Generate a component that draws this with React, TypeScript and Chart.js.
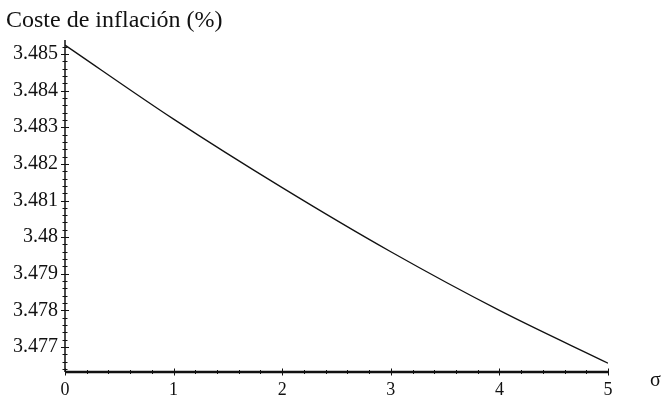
import React, { useEffect, useRef } from "react";
import { Chart, registerables } from "chart.js";

Chart.register(...registerables);

const sigmaValues = [0, 1, 2, 3, 4, 5];
const costValues = [3.48524, 3.48322, 3.48135, 3.4796, 3.478, 3.47656];
const yMajorStep = 0.001;
const yMinorStep = 0.0002;
const xMajorStep = 1;
const xMinorStep = 0.2;
const titleText = "Coste de inflación (%)";
const xAxisLabel = "σ";

const FONT = "'Liberation Serif', 'Times New Roman', serif";

const axisDecor = {
  id: "axisDecor",
  afterDraw(chart: any) {
    const ctx = chart.ctx;
    const xs = chart.scales.x;
    const ys = chart.scales.y;
    const area = chart.chartArea;
    ctx.save();
    ctx.strokeStyle = "#111";
    ctx.lineWidth = 1.5;
    ctx.beginPath();
    ctx.moveTo(area.left, area.top);
    ctx.lineTo(area.left, area.bottom);
    ctx.stroke();
    ctx.lineWidth = 2.5;
    ctx.beginPath();
    ctx.moveTo(area.left, area.bottom);
    ctx.lineTo(area.right, area.bottom);
    ctx.stroke();
    ctx.lineWidth = 1;
    const yStart = Math.ceil(ys.min / yMinorStep - 1e-6);
    const yEnd = Math.floor(ys.max / yMinorStep + 1e-6);
    for (let i = yStart; i <= yEnd; i++) {
      const v = i * yMinorStep;
      const py = Math.round(ys.getPixelForValue(v)) + 0.5;
      const major = Math.abs(v / yMajorStep - Math.round(v / yMajorStep)) < 1e-6;
      const len = major ? 4 : 2.5;
      ctx.beginPath();
      ctx.moveTo(area.left - len, py);
      ctx.lineTo(area.left + len, py);
      ctx.stroke();
    }
    const xStart = Math.ceil(xs.min / xMinorStep - 1e-6);
    const xEnd = Math.floor(xs.max / xMinorStep + 1e-6);
    for (let i = xStart; i <= xEnd; i++) {
      const v = i * xMinorStep;
      const px = Math.round(xs.getPixelForValue(v)) + 0.5;
      const major = Math.abs(v / xMajorStep - Math.round(v / xMajorStep)) < 1e-6;
      const len = major ? 3.5 : 2;
      ctx.beginPath();
      ctx.moveTo(px, area.bottom - len);
      ctx.lineTo(px, area.bottom + len);
      ctx.stroke();
    }
    ctx.fillStyle = "#111";
    ctx.textBaseline = "alphabetic";
    ctx.textAlign = "left";
    ctx.font = `24px ${FONT}`;
    ctx.fillText(titleText, 6, 27);
    ctx.font = `20px ${FONT}`;
    ctx.fillText(xAxisLabel, 650, 386);
    ctx.restore();
  },
};

export default function App() {
  const canvasRef = useRef<HTMLCanvasElement | null>(null);

  useEffect(() => {
    const canvas = canvasRef.current;
    if (!canvas) return;
    const chart = new Chart(canvas, {
      type: "line",
      data: {
        datasets: [
          {
            data: sigmaValues.map((s, i) => ({ x: s, y: costValues[i] })),
            borderColor: "#111",
            borderWidth: 1.3,
            pointRadius: 0,
            fill: false,
            cubicInterpolationMode: "monotone",
          },
        ],
      },
      options: {
        animation: false,
        responsive: true,
        maintainAspectRatio: false,
        layout: { padding: { top: 40, right: 56, left: 0, bottom: 0 } },
        plugins: {
          legend: { display: false },
          title: { display: false },
          tooltip: { enabled: false },
        },
        scales: {
          x: {
            type: "linear",
            min: 0,
            max: 5,
            grid: { display: false, drawTicks: false, tickLength: 0 },
            border: { display: false },
            ticks: {
              stepSize: xMajorStep,
              autoSkip: false,
              includeBounds: false,
              padding: 7,
              color: "#111",
              font: { family: FONT, size: 18 },
              callback: (v: any) => String(Math.round(Number(v))),
            },
            afterFit: (scale: any) => {
              scale.height = 25;
            },
          },
          y: {
            type: "linear",
            min: 3.47632,
            max: 3.48538,
            grid: { display: false, drawTicks: false, tickLength: 0 },
            border: { display: false },
            ticks: {
              stepSize: yMajorStep,
              autoSkip: false,
              includeBounds: false,
              padding: 7,
              color: "#111",
              font: { family: FONT, size: 20 },
              callback: (v: any) => String(parseFloat(Number(v).toFixed(3))),
            },
            afterFit: (scale: any) => {
              scale.width = 65;
            },
          },
        },
      },
      plugins: [axisDecor],
    } as any);
    return () => chart.destroy();
  }, []);

  return (
    <div style={{ position: "fixed", left: 0, top: 0, width: 664, height: 397, background: "#fff" }}>
      <canvas ref={canvasRef} />
    </div>
  );
}
